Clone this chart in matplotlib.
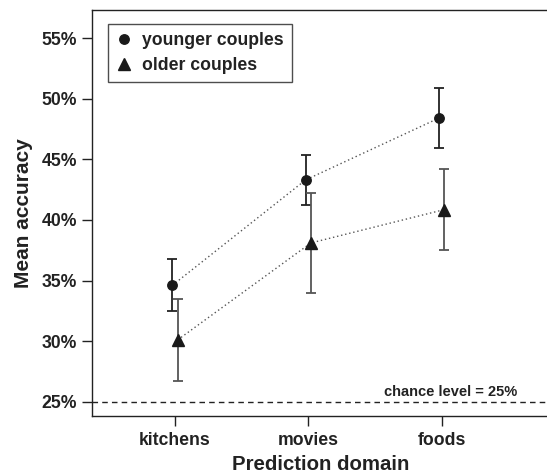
import matplotlib
matplotlib.use("Agg")
import matplotlib.pyplot as plt
from matplotlib.lines import Line2D
import numpy as np

plt.rcParams['font.family'] = ['Liberation Sans', 'DejaVu Sans']
plt.rcParams['font.weight'] = 'bold'

domains = ["kitchens", "movies", "foods"]
younger_mean = [34.6, 43.3, 48.4]
younger_err = [2.15, 2.05, 2.5]
older_mean = [30.1, 38.1, 40.85]
older_err = [3.37, 4.1, 3.35]
yticks = [25, 30, 35, 40, 45, 50, 55]
chance = 25

W, H = 547, 474
fig = plt.figure(figsize=(W / 100, H / 100), dpi=100)
left, right, top, bottom = 91.7, 549, 10, 416
ax = fig.add_axes([left / W, 1 - bottom / H, (right - left) / W, (bottom - top) / H])

x = np.arange(1, len(domains) + 1)
off = 0.02

ax.plot(x - off, younger_mean, linestyle=(0, (1, 2)), color='#555555', lw=1.0, zorder=1)
ax.plot(x + off, older_mean, linestyle=(0, (1, 2)), color='#555555', lw=1.0, zorder=1)
ax.errorbar(x - off, younger_mean, yerr=younger_err, fmt='none', ecolor='#222222',
            elinewidth=1.3, capsize=3.5, capthick=1.3, zorder=2)
ax.errorbar(x + off, older_mean, yerr=older_err, fmt='none', ecolor='#555555',
            elinewidth=1.3, capsize=3.5, capthick=1.3, zorder=2)
ax.plot(x - off, younger_mean, 'o', color='#1a1a1a', ms=6.8, zorder=3)
ax.plot(x + off, older_mean, '^', color='#1a1a1a', ms=8, zorder=3)

ax.axhline(chance, color='#222222', lw=1.0, linestyle=(0, (4, 3)), zorder=1)

ax.set_xlim(1 - (175 - left) / 133.3, 1 + (right - 175) / 133.3)
ax.set_ylim(25 - (bottom - 401.7) / 12.12, 25 + (401.7 - top) / 12.12)
ax.text(1 + (517 - 175) / 133.3, chance + 0.25, "chance level = 25%",
        ha='right', va='bottom', fontsize=10.5, fontweight='bold', color='#222222')

ax.set_xticks(x)
ax.set_xticklabels(domains)
ax.set_yticks(yticks)
ax.set_yticklabels([f"{v}%" for v in yticks])
ax.tick_params(axis='both', direction='out', length=7.5, width=1, labelsize=12.7, color='#222222')
ax.tick_params(axis='y', pad=3)
ax.tick_params(axis='x', pad=4)
for lab in ax.get_xticklabels() + ax.get_yticklabels():
    lab.set_fontweight('bold')
    lab.set_color('#222222')

for s in ax.spines.values():
    s.set_linewidth(1.0)
    s.set_color('#222222')

ax.set_xlabel("Prediction domain", fontsize=14.7, fontweight='bold', color='#222222', labelpad=4)
ax.set_ylabel("Mean accuracy", fontsize=15, fontweight='bold', color='#222222', labelpad=6)

handles = [Line2D([], [], marker='o', color='#1a1a1a', ls='none', ms=6.8),
           Line2D([], [], marker='^', color='#1a1a1a', ls='none', ms=8)]
leg = ax.legend(handles, ["younger couples", "older couples"], loc='upper left',
                bbox_to_anchor=((107.7 - left) / (right - left), (bottom - 24.3) / (bottom - top)),
                borderaxespad=0, frameon=True, fancybox=False, edgecolor='#222222',
                prop={'weight': 'bold', 'size': 12.7}, handlelength=1.0, handletextpad=0.5,
                borderpad=0.45, labelspacing=0.45)
leg.get_frame().set_linewidth(1.0)
for t in leg.get_texts():
    t.set_color('#222222')

fig.savefig("out.png", dpi=100)
